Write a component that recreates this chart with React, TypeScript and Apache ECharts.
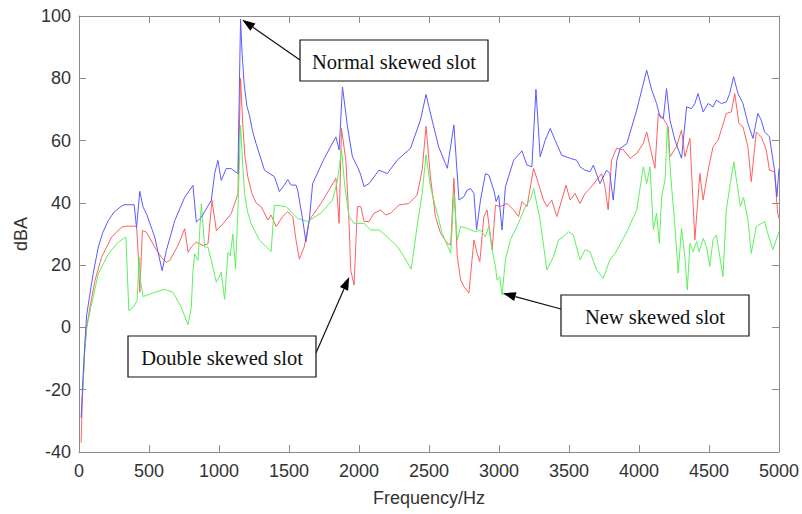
import React, { useEffect, useRef } from "react";
import * as echarts from "echarts";

// [Frequency (Hz), dBA]
const normalSkewed: [number, number][] = [
  [15, -29], [30, -15], [43, -4], [55, 4], [78, 10.7], [100, 17], [138, 25.8], [170, 30.5], [209, 34.3], [250, 37],
  [304, 39], [328, 39.4], [394, 39.4], [411, 32], [434, 43.7], [458, 38.6], [482, 36.5], [541, 29], [594, 18.2],
  [624, 24.7], [684, 34.3], [755, 41.8], [814, 45.6], [838, 33.8], [874, 35.4], [945, 40.8], [969, 49.4], [992, 53.6],
  [1016, 47.2], [1052, 51], [1087, 51], [1135, 49.4], [1154, 99], [1165, 88], [1180, 78], [1200, 71], [1218, 68],
  [1240, 63], [1265, 59], [1325, 50.5], [1396, 48.4], [1432, 43.6], [1467, 45.7], [1491, 47.5], [1515, 45.7],
  [1550, 45.7], [1562, 44.1], [1598, 34.5], [1621, 27.5], [1645, 34.5], [1669, 46.2], [1752, 54.3], [1835, 61.2],
  [1858, 57], [1882, 77.2], [1918, 64.4], [1953, 54.8], [1989, 51.6], [2013, 48.9], [2036, 45.2], [2072, 46.2],
  [2143, 50.5], [2202, 49.4], [2273, 53.7], [2368, 57.5], [2439, 66.6], [2479, 74.8], [2522, 66.6], [2569, 58],
  [2631, 51.1], [2678, 65], [2714, 40.9], [2750, 42], [2773, 44.1], [2797, 44.6], [2821, 43], [2840, 31.3],
  [2868, 40.9], [2903, 49.4], [2927, 48.9], [2963, 44.1], [2980, 40.4], [2998, 42.5], [3022, 31.3], [3046, 45.2],
  [3105, 53.7], [3164, 56.7], [3200, 52.1], [3235, 51.6], [3264, 76.4], [3294, 54.8], [3330, 60.1], [3366, 63.9],
  [3401, 60.1], [3448, 55.3], [3508, 54.3], [3555, 53.7], [3579, 51.6], [3614, 50.5], [3650, 50], [3674, 52.1],
  [3721, 46.2], [3769, 50.5], [3792, 49.4], [3816, 40.9], [3842, 53.7], [3866, 57.5], [3913, 59], [3984, 69.8],
  [4055, 82.6], [4091, 76.2], [4126, 71.9], [4150, 67.6], [4174, 67.1], [4197, 76.7], [4221, 66.6], [4257, 60.1],
  [4304, 54.3], [4340, 70.8], [4375, 70.3], [4399, 71.9], [4422, 75.1], [4458, 69.2], [4494, 71.9], [4529, 70.8],
  [4553, 73], [4589, 71.9], [4624, 72.4], [4648, 75.1], [4676, 80.5], [4707, 75.1], [4743, 71.9], [4778, 65.5],
  [4814, 60.7], [4849, 68.7], [4873, 66.6], [4897, 62.8], [4932, 61.2], [4968, 50.5], [4985, 42], [5000, 51],
];

const doubleSkewed: [number, number][] = [
  [15, -37], [25, -22], [40, -8], [55, 0], [78, 6.4], [114, 15], [161, 22.5], [233, 29], [304, 32.2], [340, 32.5],
  [411, 32.5], [423, 23.6], [434, 11.3], [453, 31.1], [482, 30.6], [541, 25.8], [589, 22.5], [624, 20.9], [648, 21.5],
  [707, 26.3], [755, 31.7], [779, 24.1], [802, 25.8], [838, 27.4], [886, 26.3], [921, 26.8], [950, 40.8], [981, 31.1],
  [1028, 33.3], [1087, 36.5], [1135, 42.9], [1154, 80], [1170, 65], [1185, 55], [1206, 48.3], [1235, 43], [1265, 40],
  [1301, 38.8], [1349, 34.5], [1372, 36.1], [1408, 32.4], [1455, 35.6], [1491, 37.2], [1527, 35.6], [1550, 28.1],
  [1574, 21.9], [1609, 25.9], [1645, 34.5], [1681, 36.7], [1728, 39.8], [1764, 42.5], [1835, 47.9], [1858, 33.4],
  [1875, 63.9], [1906, 53.7], [1929, 33.4], [1941, 18.4], [1965, 13.6], [1989, 38.8], [2013, 38.8], [2036, 34],
  [2072, 34], [2107, 36.7], [2155, 37.7], [2190, 36.1], [2226, 36.7], [2285, 39.3], [2356, 39.8], [2415, 42.5],
  [2451, 50.5], [2479, 64.6], [2510, 48.4], [2546, 35.6], [2583, 30.2], [2631, 27], [2655, 26.5], [2678, 47.9],
  [2702, 22.7], [2726, 15.3], [2750, 13.1], [2785, 11], [2821, 28.1], [2844, 23.8], [2863, 21.1], [2892, 35.6],
  [2915, 37.7], [2951, 24.9], [2975, 39.3], [3010, 38.8], [3058, 39.8], [3105, 37.7], [3140, 35.6], [3164, 40.4],
  [3200, 38.8], [3247, 51.1], [3282, 46.2], [3318, 40.9], [3342, 38.8], [3377, 40.9], [3413, 35.6], [3448, 40.9],
  [3479, 45.7], [3508, 40.9], [3543, 43], [3579, 39.8], [3614, 43], [3650, 44.6], [3697, 47.3], [3733, 49.4],
  [3757, 45.2], [3780, 37.7], [3804, 53.7], [3840, 57.5], [3889, 57], [3937, 54.3], [3984, 55.9], [4031, 59.1],
  [4055, 62.8], [4079, 58], [4114, 51.1], [4138, 68.7], [4174, 67.1], [4209, 64.4], [4221, 54.8], [4268, 58],
  [4304, 63.4], [4328, 54.8], [4364, 60.7], [4399, 28.1], [4435, 49.4], [4458, 40.9], [4494, 50.5], [4529, 58],
  [4565, 60.1], [4624, 68.7], [4660, 69.2], [4684, 75.1], [4714, 65.5], [4743, 64.4], [4778, 58], [4802, 46.8],
  [4838, 62.8], [4873, 61.2], [4909, 57], [4932, 50.5], [4968, 50], [4990, 37], [5000, 35],
];

const newSkewed: [number, number][] = [
  [28, -20], [40, -8], [55, 0], [90, 7.5], [138, 17.2], [209, 23.6], [280, 27.4], [335, 29], [356, 5.4], [387, 6.4],
  [415, 8.6], [430, 22.5], [439, 15], [458, 9.9], [541, 11.3], [612, 12.2], [672, 11.3], [731, 6.4], [779, 0.9],
  [802, 6.4], [814, 18.2], [826, 23.6], [850, 21.5], [874, 39.7], [898, 25.8], [921, 25.8], [945, 21.5], [981, 14.5],
  [1016, 17.7], [1040, 9], [1064, 24.1], [1080, 23], [1099, 30], [1118, 18.8], [1135, 37.6], [1154, 64.9], [1170, 52],
  [1182, 43], [1205, 37], [1230, 33.3], [1289, 28], [1325, 26.5], [1372, 24.3], [1396, 39.3], [1479, 38.8],
  [1562, 35], [1633, 34], [1728, 36.7], [1811, 40.9], [1847, 47.3], [1875, 57], [1899, 45.2], [1929, 35.6],
  [1965, 33.4], [2036, 33.4], [2083, 31.3], [2143, 31.3], [2202, 29.1], [2273, 26], [2321, 22.7], [2373, 18.7],
  [2415, 32.4], [2451, 43], [2479, 55.5], [2510, 45.2], [2546, 38.8], [2595, 30.2], [2655, 23.8], [2678, 43],
  [2702, 28.1], [2726, 32.4], [2773, 31.8], [2832, 30.7], [2868, 31.3], [2903, 29.1], [2927, 32.4], [2951, 24.9],
  [2975, 19.5], [2986, 15.2], [3005, 16.3], [3022, 10.4], [3046, 21.7], [3081, 28.1], [3129, 32.4], [3188, 38.8],
  [3223, 40.9], [3247, 44.6], [3294, 34.5], [3342, 18.5], [3389, 22.7], [3425, 28.1], [3460, 29.1], [3496, 30.7],
  [3531, 29.7], [3579, 21.7], [3614, 24.9], [3650, 24.3], [3697, 18.5], [3745, 15.8], [3792, 21.7], [3830, 23.8],
  [3913, 30.7], [3984, 37.7], [4031, 51.6], [4055, 46.2], [4079, 51.6], [4103, 31.3], [4126, 36.7], [4145, 27],
  [4162, 42], [4186, 47.3], [4202, 64.4], [4233, 45.2], [4257, 32.4], [4280, 17.4], [4304, 31.8], [4328, 22.7],
  [4345, 12], [4364, 27], [4387, 24.3], [4411, 27.6], [4430, 24.3], [4458, 28.6], [4482, 25.9], [4506, 19.6],
  [4529, 28.1], [4553, 29.7], [4577, 22.7], [4600, 16.3], [4624, 37.7], [4652, 46.2], [4678, 53.2], [4700, 46.2],
  [4724, 38.8], [4747, 41.8], [4778, 34.5], [4802, 23.8], [4838, 32.4], [4897, 34], [4920, 30.2], [4956, 25],
  [5000, 30.7],
];

const seriesNames = ["Normal skewed slot", "Double skewed slot", "New skewed slot"];
const seriesColors = ["#5a5aff", "#ff5f5f", "#5ef05e"];

// annotation: label, data point the arrow points at
const annotationLabels = ["Normal skewed slot", "Double skewed slot", "New skewed slot"];
const annotationTargets: [number, number][] = [[1166, 98.8], [1930, 16.2], [3027, 11]];

export default function App() {
  const ref = useRef<HTMLDivElement>(null);
  useEffect(() => {
    const chart = echarts.init(ref.current!, null, { renderer: "svg" });
    const axisColor = "#8c8c8c";
    const labelColor = "#333333";
    const font = "Liberation Sans";
    const baseAxis = {
      type: "value" as const,
      axisLine: { show: true, onZero: false, lineStyle: { color: axisColor, width: 1 } },
      axisTick: { show: true, inside: true, length: 7, lineStyle: { color: axisColor } },
      splitLine: { show: false },
    };
    const plain = (v: number) => String(v);
    chart.setOption({
      animation: false,
      backgroundColor: "#ffffff",
      grid: { left: 79, right: 21, top: 16, bottom: 62, containLabel: false },
      xAxis: [
        {
          ...baseAxis,
          min: 0, max: 5000, interval: 500, position: "bottom",
          axisLabel: { color: labelColor, fontSize: 18, fontFamily: font, margin: 10, showMinLabel: true, showMaxLabel: true, formatter: plain },
          name: "Frequency/Hz", nameLocation: "middle", nameGap: 37,
          nameTextStyle: { color: labelColor, fontSize: 18, fontFamily: font },
        },
        { ...baseAxis, min: 0, max: 5000, interval: 500, position: "top", axisLabel: { show: false } },
      ],
      yAxis: [
        {
          ...baseAxis,
          min: -40, max: 100, interval: 20, position: "left",
          axisLabel: { color: labelColor, fontSize: 18, fontFamily: font, margin: 8, showMinLabel: true, showMaxLabel: true, formatter: plain },
          name: "dBA", nameLocation: "middle", nameGap: 48,
          nameTextStyle: { color: labelColor, fontSize: 18, fontFamily: font },
        },
        { ...baseAxis, min: -40, max: 100, interval: 20, position: "right", axisLabel: { show: false } },
      ],
      series: [doubleSkewed, newSkewed, normalSkewed].map((d, i) => {
        const idx = [1, 2, 0][i];
        return {
          name: seriesNames[idx],
          type: "line",
          data: d,
          xAxisIndex: 0,
          yAxisIndex: 0,
          symbol: "none",
          showSymbol: false,
          lineStyle: { color: seriesColors[idx], width: 1 },
          itemStyle: { color: seriesColors[idx] },
          silent: true,
        };
      }),
    });

    const boxes = [
      { x: 300, y: 40, w: 188, h: 41, sx: 300, sy: 60 },
      { x: 128, y: 336, w: 188, h: 41, sx: 316, sy: 353 },
      { x: 561, y: 295, w: 188, h: 41, sx: 561, sy: 309 },
    ];
    const graphics: any[] = [];
    boxes.forEach((b, i) => {
      const t = chart.convertToPixel({ seriesIndex: 0 }, annotationTargets[i]) as number[];
      const dx = t[0] - b.sx;
      const dy = t[1] - b.sy;
      const len = Math.sqrt(dx * dx + dy * dy);
      const ux = dx / len;
      const uy = dy / len;
      const L = 13;
      const W = 4.5;
      const bx = t[0] - ux * L;
      const by = t[1] - uy * L;
      graphics.push({
        type: "line",
        shape: { x1: b.sx, y1: b.sy, x2: bx, y2: by },
        style: { stroke: "#111", lineWidth: 1.2 },
        z: 100,
      });
      graphics.push({
        type: "polygon",
        shape: { points: [[t[0], t[1]], [bx - uy * W, by + ux * W], [bx + uy * W, by - ux * W]] },
        style: { fill: "#000" },
        z: 100,
      });
      graphics.push({
        type: "rect",
        shape: { x: b.x, y: b.y, width: b.w, height: b.h },
        style: { fill: "#ffffff", stroke: "#111", lineWidth: 1.2 },
        z: 100,
      });
      graphics.push({
        type: "text",
        x: b.x + b.w / 2,
        y: b.y + b.h / 2 + 1,
        style: {
          text: annotationLabels[i],
          fill: "#111",
          fontSize: 20.5,
          fontFamily: "Liberation Serif",
          align: "center",
          verticalAlign: "middle",
          textAlign: "center",
          textVerticalAlign: "middle",
        },
        z: 101,
      });
    });
    chart.setOption({ graphic: graphics });
    return () => chart.dispose();
  }, []);
  return <div ref={ref} style={{ position: "absolute", left: 0, top: 0, width: 802, height: 514 }} />;
}
